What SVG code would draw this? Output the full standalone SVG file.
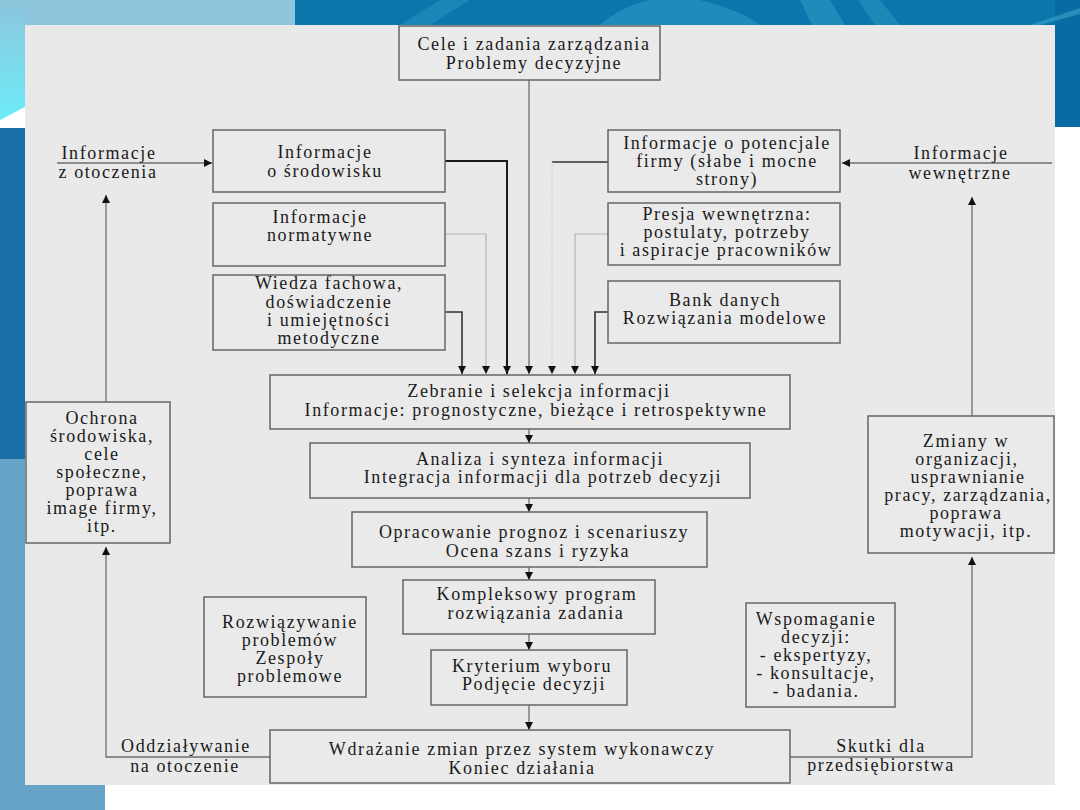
<svg xmlns="http://www.w3.org/2000/svg" width="1080" height="810" viewBox="0 0 1080 810">
<defs>
<linearGradient id="gl" x1="0" y1="0" x2="0" y2="1">
<stop offset="0" stop-color="#8cc5dc"/>
<stop offset="1" stop-color="#6cecf8"/>
</linearGradient>
<marker id="ah" viewBox="0 0 8 8" refX="8" refY="4" markerWidth="8" markerHeight="8" markerUnits="userSpaceOnUse" orient="auto">
<path d="M0,0 L8,4 L0,8 z" fill="#111"/>
</marker>
<style>
.box{fill:#eaeaea;stroke:#666;stroke-width:1.5}
.t{font-family:"Liberation Serif","Times New Roman",serif;font-size:18px;letter-spacing:1.6px;fill:#1a1a1a;text-anchor:middle}
.c{fill:none;stroke:#6e6e6e;stroke-width:1.3}
.dk{stroke:#333;stroke-width:1.6}
.bk{stroke:#1a1a1a;stroke-width:2}
.lt{stroke:#b5b5b5;stroke-width:1.2}
.dt{stroke:#c4c4c4;stroke-width:1;stroke-dasharray:1.5 2}
</style>
</defs>
<!-- background slide -->
<rect x="0" y="0" width="1080" height="810" fill="#ffffff"/>
<rect x="0" y="0" width="295" height="25" fill="#8cc5dc"/>
<polygon points="0,0 25,0 25,107 0,120" fill="url(#gl)"/>
<rect x="295" y="0" width="785" height="25" fill="#0a76ab"/>
<path d="M600,25 Q640,-10 700,0 Q740,10 760,25 z" fill="#2596c2" opacity="0.7"/>
<polygon points="800,0 830,0 845,25 812,25" fill="#2a9bc6" opacity="0.6"/>
<polygon points="858,0 880,0 900,25 875,25" fill="#2a9bc6" opacity="0.5"/>
<polygon points="400,25 440,0 470,0 430,25" fill="#2a9bc6" opacity="0.45"/>
<rect x="1055" y="0" width="25" height="127" fill="#0a6aa3"/>
<path d="M1030,25 L1080,8 L1080,14 L1040,25 z" fill="#3aa5cc" opacity="0.6"/>
<rect x="0" y="128" width="25" height="331" fill="#1b6fa7"/>
<rect x="0" y="459" width="25" height="351" fill="#65a3c8"/>
<rect x="0" y="785" width="105" height="25" fill="#65a3c8"/>
<rect x="25" y="25" width="1030" height="760" fill="#e9e9e9"/>

<!-- connectors -->
<g id="connectors">
<path class="c" d="M57,163 H212" marker-end="url(#ah)"/>
<path class="c" d="M106,402 V195" marker-end="url(#ah)"/>
<path class="c" d="M270,757 H106 V547" marker-end="url(#ah)"/>
<path class="c" d="M790,757 H972 V557" marker-end="url(#ah)"/>
<path class="c" d="M972,416 V197" marker-end="url(#ah)"/>
<path class="c" d="M1052,163 H842" marker-end="url(#ah)"/>
<path class="c dk" d="M445,312 H462 V374" marker-end="url(#ah)"/>
<path class="c lt" d="M445,234 H486 V374" marker-end="url(#ah)"/>
<path class="c bk" d="M445,161 H507 V374" marker-end="url(#ah)"/>
<path class="c" d="M529,80 V374" marker-end="url(#ah)"/>
<path class="c dk" d="M608,162 H552"/>
<path class="c dt" d="M552,162 V374" marker-end="url(#ah)"/>
<path class="c lt" d="M608,234 H575 V374" marker-end="url(#ah)"/>
<path class="c dk" d="M608,312 H595 V374" marker-end="url(#ah)"/>
<path class="c" d="M529,429 V443" marker-end="url(#ah)"/>
<path class="c" d="M529,498 V512" marker-end="url(#ah)"/>
<path class="c" d="M529,567 V580" marker-end="url(#ah)"/>
<path class="c" d="M529,634 V650" marker-end="url(#ah)"/>
<path class="c" d="M529,705 V730" marker-end="url(#ah)"/>
</g>

<!-- free labels -->
<g id="lbl-otoczenie">
<text class="t" x="109" y="159">Informacje</text>
<text class="t" x="108" y="178">z otoczenia</text>
</g>
<g id="lbl-wewnetrzne">
<text class="t" x="961" y="159">Informacje</text>
<text class="t" x="960" y="179">wewnętrzne</text>
</g>
<g id="lbl-oddzialywanie">
<text class="t" x="186" y="752">Oddziaływanie</text>
<text class="t" x="185" y="772">na otoczenie</text>
</g>
<g id="lbl-skutki">
<text class="t" x="881" y="752">Skutki dla</text>
<text class="t" x="881" y="771">przedsiębiorstwa</text>
</g>

<!-- nodes -->
<g id="n-cele">
<rect class="box" x="399" y="26" width="261" height="54"/>
<text class="t" x="534" y="50">Cele i zadania zarządzania</text>
<text class="t" x="534" y="69">Problemy decyzyjne</text>
</g>
<g id="n-srodowisko">
<rect class="box" x="213" y="130" width="232" height="62"/>
<text class="t" x="325" y="158">Informacje</text>
<text class="t" x="325" y="177">o środowisku</text>
</g>
<g id="n-normatywne">
<rect class="box" x="213" y="203" width="232" height="63"/>
<text class="t" x="320" y="223">Informacje</text>
<text class="t" x="320" y="241">normatywne</text>
</g>
<g id="n-wiedza">
<rect class="box" x="213" y="275" width="232" height="75"/>
<text class="t" x="329" y="289">Wiedza fachowa,</text>
<text class="t" x="329" y="308">doświadczenie</text>
<text class="t" x="329" y="326">i umiejętności</text>
<text class="t" x="329" y="344">metodyczne</text>
</g>
<g id="n-potencjal">
<rect class="box" x="608" y="130" width="232" height="62"/>
<text class="t" x="727" y="149">Informacje o potencjale</text>
<text class="t" x="727" y="167">firmy (słabe i mocne</text>
<text class="t" x="727" y="185">strony)</text>
</g>
<g id="n-presja">
<rect class="box" x="608" y="203" width="232" height="62"/>
<text class="t" x="727" y="220">Presja wewnętrzna:</text>
<text class="t" x="727" y="238">postulaty, potrzeby</text>
<text class="t" x="726" y="256">i aspiracje pracowników</text>
</g>
<g id="n-bank">
<rect class="box" x="608" y="281" width="232" height="62"/>
<text class="t" x="725" y="306">Bank danych</text>
<text class="t" x="725" y="324">Rozwiązania modelowe</text>
</g>
<g id="n-zebranie">
<rect class="box" x="270" y="375" width="520" height="54"/>
<text class="t" x="539" y="397">Zebranie i selekcja informacji</text>
<text class="t" x="536" y="416">Informacje: prognostyczne, bieżące i retrospektywne</text>
</g>
<g id="n-analiza">
<rect class="box" x="310" y="443" width="440" height="55"/>
<text class="t" x="540" y="465">Analiza i synteza informacji</text>
<text class="t" x="543" y="483">Integracja informacji dla potrzeb decyzji</text>
</g>
<g id="n-opracowanie">
<rect class="box" x="352" y="512" width="355" height="55"/>
<text class="t" x="534" y="538">Opracowanie prognoz i scenariuszy</text>
<text class="t" x="538" y="557">Ocena szans i ryzyka</text>
</g>
<g id="n-kompleksowy">
<rect class="box" x="403" y="580" width="252" height="54"/>
<text class="t" x="537" y="600">Kompleksowy program</text>
<text class="t" x="536" y="619">rozwiązania zadania</text>
</g>
<g id="n-kryterium">
<rect class="box" x="431" y="650" width="196" height="55"/>
<text class="t" x="532" y="672">Kryterium wyboru</text>
<text class="t" x="534" y="690">Podjęcie decyzji</text>
</g>
<g id="n-wdrazanie">
<rect class="box" x="270" y="730" width="520" height="53"/>
<text class="t" x="522" y="755">Wdrażanie zmian przez system wykonawczy</text>
<text class="t" x="522" y="774">Koniec działania</text>
</g>
<g id="n-ochrona">
<rect class="box" x="26" y="402" width="144" height="141"/>
<text class="t" x="102" y="424">Ochrona</text>
<text class="t" x="102" y="442">środowiska,</text>
<text class="t" x="102" y="460">cele</text>
<text class="t" x="102" y="478">społeczne,</text>
<text class="t" x="102" y="496">poprawa</text>
<text class="t" x="102" y="514">image firmy,</text>
<text class="t" x="102" y="532">itp.</text>
</g>
<g id="n-zmiany">
<rect class="box" x="868" y="416" width="186" height="137"/>
<text class="t" x="966" y="447">Zmiany w</text>
<text class="t" x="967" y="465">organizacji,</text>
<text class="t" x="968" y="483">usprawnianie</text>
<text class="t" x="968" y="501">pracy, zarządzania,</text>
<text class="t" x="966" y="519">poprawa</text>
<text class="t" x="966" y="537">motywacji, itp.</text>
</g>
<g id="n-rozwiazywanie">
<rect class="box" x="204" y="597" width="162" height="100"/>
<text class="t" x="290" y="628">Rozwiązywanie</text>
<text class="t" x="290" y="646">problemów</text>
<text class="t" x="290" y="664">Zespoły</text>
<text class="t" x="290" y="682">problemowe</text>
</g>
<g id="n-wspomaganie">
<rect class="box" x="746" y="603" width="149" height="104"/>
<text class="t" x="816" y="625">Wspomaganie</text>
<text class="t" x="816" y="643">decyzji:</text>
<text class="t" x="816" y="661">- ekspertyzy,</text>
<text class="t" x="816" y="679">- konsultacje,</text>
<text class="t" x="816" y="697">- badania.</text>
</g>
</svg>
